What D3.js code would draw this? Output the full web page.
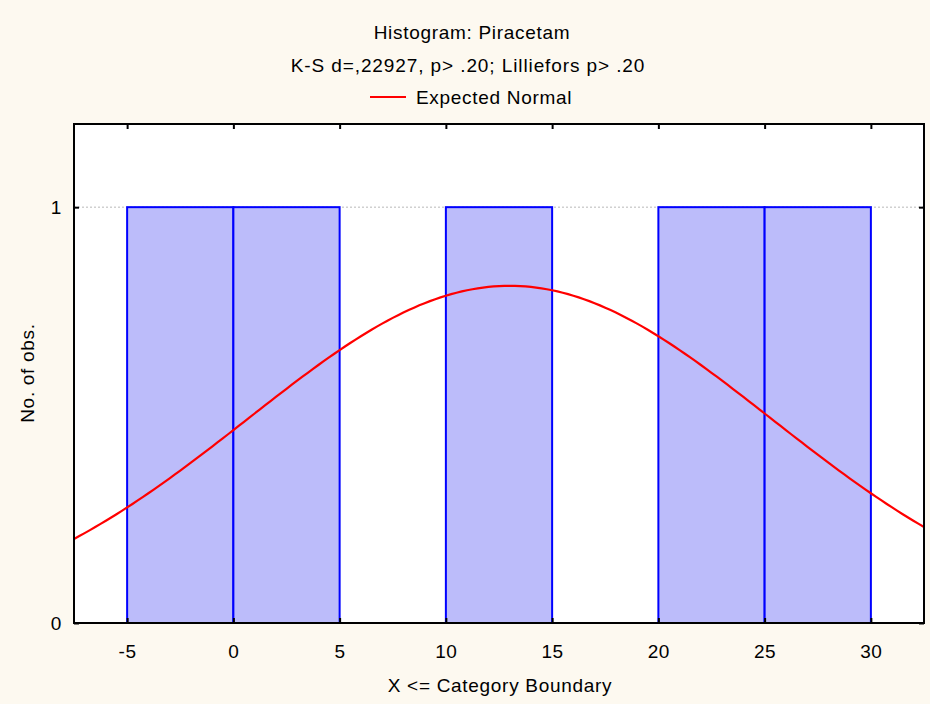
<!DOCTYPE html>
<html>
<head>
<meta charset="utf-8">
<script src="https://cdn.jsdelivr.net/npm/d3@7"></script>
<style>
  html, body { margin: 0; padding: 0; background: #fdf9f0; }
  svg { display: block; }
  text { font-family: "Liberation Sans", Arial, sans-serif; fill: #000; }
</style>
</head>
<body>
<svg id="chart" width="930" height="704"></svg>
<script>
// Histogram bins (upper category boundaries) and observation counts
const binLower = [-5, 0, 5, 10, 15, 20, 25];
const binUpper = [0, 5, 10, 15, 20, 25, 30];
const counts   = [1, 1, 0, 1, 0, 1, 1];

// Axis tick values
const xTicks = [-5, 0, 5, 10, 15, 20, 25, 30];
const yTicks = [0, 1];

// Fitted normal: mean, standard deviation, number of observations, bin width
const normalMean = 13.0;
const normalSD = 12.3;
const nObs = 5;
const binWidth = 5;

const titleText = "Histogram: Piracetam";
const subtitleText = "K-S d=,22927, p> .20; Lilliefors p> .20";
const legendText = "Expected Normal";
const xLabel = "X <= Category Boundary";
const yLabel = "No. of obs.";

const svg = d3.select("#chart");
const plot = { left: 74, right: 924, top: 124, bottom: 623 };

const x = d3.scaleLinear().domain([-7.5, 32.5]).range([plot.left, plot.right]);
const y = d3.scaleLinear().domain([0, 1.2]).range([plot.bottom, plot.top]);

// Plot area background
svg.append("rect")
  .attr("x", plot.left).attr("y", plot.top)
  .attr("width", plot.right - plot.left).attr("height", plot.bottom - plot.top)
  .attr("fill", "#fff");

// Horizontal gridlines
svg.append("g").selectAll("line").data(yTicks.filter(d => d > 0)).join("line")
  .attr("x1", plot.left).attr("x2", plot.right)
  .attr("y1", d => y(d)).attr("y2", d => y(d))
  .attr("stroke", "#b8b8b8").attr("stroke-width", 1)
  .attr("stroke-dasharray", "2,2");

// Bars
const barData = counts.map((c, i) => ({ lo: binLower[i], hi: binUpper[i], c })).filter(d => d.c > 0);
svg.append("g").selectAll("rect").data(barData).join("rect")
  .attr("x", d => x(d.lo)).attr("width", d => x(d.hi) - x(d.lo))
  .attr("y", d => y(d.c)).attr("height", d => y(0) - y(d.c))
  .attr("fill", "#bcbcfa")
  .attr("stroke", "#0000ff").attr("stroke-width", 2);

// Expected normal curve (expected count per bin)
const pdf = v => Math.exp(-0.5 * Math.pow((v - normalMean) / normalSD, 2)) / (normalSD * Math.sqrt(2 * Math.PI));
const curveXs = d3.range(-7.5, 32.5001, 0.25);
const line = d3.line().x(d => x(d)).y(d => y(nObs * binWidth * pdf(d)));
svg.append("path").datum(curveXs)
  .attr("d", line).attr("fill", "none")
  .attr("stroke", "#ff0000").attr("stroke-width", 2.2);

// Axes with inward ticks on all four sides
const axFont = "19px";
const fmt = d => String(d);
const xb = svg.append("g").attr("transform", `translate(0,${plot.bottom})`)
  .call(d3.axisBottom(x).tickValues(xTicks).tickSize(-5).tickPadding(22).tickFormat(fmt));
const xt = svg.append("g").attr("transform", `translate(0,${plot.top})`)
  .call(d3.axisTop(x).tickValues(xTicks).tickSize(-5).tickFormat(""));
const yl = svg.append("g").attr("transform", `translate(${plot.left},0)`)
  .call(d3.axisLeft(y).tickValues(yTicks).tickSize(-5).tickPadding(12).tickFormat(fmt));
const yr = svg.append("g").attr("transform", `translate(${plot.right},0)`)
  .call(d3.axisRight(y).tickValues(yTicks).tickSize(-5).tickFormat(""));
[xb, xt, yl, yr].forEach(g => {
  g.select(".domain").remove();
  g.selectAll(".tick line").attr("stroke", "#000").attr("stroke-width", 2);
  g.selectAll("text").style("font-size", axFont).style("font-family", "Liberation Sans, Arial, sans-serif")
    .style("letter-spacing", "0.6px").attr("fill", "#000");
});

// Plot frame
svg.append("rect")
  .attr("x", plot.left).attr("y", plot.top)
  .attr("width", plot.right - plot.left).attr("height", plot.bottom - plot.top)
  .attr("fill", "none").attr("stroke", "#000").attr("stroke-width", 2);

// Titles
const tFont = "19px", tSpace = "0.7px";
svg.append("text").attr("x", 472).attr("y", 39).attr("text-anchor", "middle")
  .style("font-size", tFont).style("letter-spacing", tSpace).text(titleText);
svg.append("text").attr("x", 468).attr("y", 72).attr("text-anchor", "middle")
  .style("font-size", tFont).style("letter-spacing", "0.9px").text(subtitleText);

// Legend
svg.append("line").attr("x1", 370).attr("x2", 406).attr("y1", 97).attr("y2", 97)
  .attr("stroke", "#ff0000").attr("stroke-width", 2);
svg.append("text").attr("x", 416).attr("y", 104)
  .style("font-size", tFont).style("letter-spacing", tSpace).text(legendText);

// Axis titles
svg.append("text").attr("x", 500).attr("y", 692).attr("text-anchor", "middle")
  .style("font-size", tFont).style("letter-spacing", tSpace).text(xLabel);
svg.append("text").attr("transform", "translate(34,373) rotate(-90)").attr("text-anchor", "middle")
  .style("font-size", tFont).style("letter-spacing", tSpace).text(yLabel);
</script>
</body>
</html>
